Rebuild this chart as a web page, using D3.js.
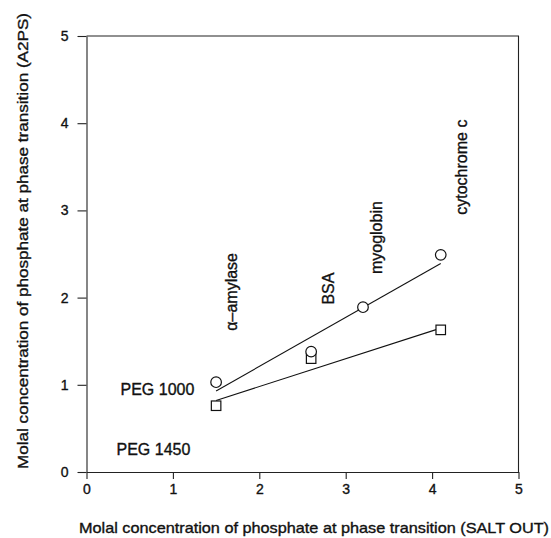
<!DOCTYPE html>
<html>
<head>
<meta charset="utf-8">
<script src="https://cdn.jsdelivr.net/npm/d3@7"></script>
<style>
  html, body { margin: 0; padding: 0; background: #fff; }
  svg text { font-family: "Liberation Sans", Arial, sans-serif; fill: #111; stroke: #111; stroke-width: 0.35px; }
</style>
</head>
<body>
<svg></svg>
<script>
// proteins and salt-out concentrations (x)
var proteins = ['\u03B1\u2013amylase', 'BSA', 'myoglobin', 'cytochrome c'];
var saltOut = [1.5, 2.6, 3.2, 4.1];
// A2PS concentrations (y) for each PEG
var peg1000 = [1.03, 1.38, 1.89, 2.49];
var peg1450 = [0.76, 1.30, null, 1.63];
// fitted lines, end points
var fitX = [1.5, 4.1];
var fit1000 = [0.93, 2.39];
var fit1450 = [0.82, 1.65];
var ticks = [0, 1, 2, 3, 4, 5];

var W = 551, H = 538;
var svg = d3.select('svg').attr('width', W).attr('height', H);

var x = d3.scaleLinear().domain([0, 5]).range([86.5, 518.5]);
var y = d3.scaleLinear().domain([0, 5]).range([472, 36]);

// where the protein names sit (data units, start of rotated text)
var labelPos = [
  {x: 1.74, y: 1.62},
  {x: 2.86, y: 1.92},
  {x: 3.42, y: 2.27},
  {x: 4.40, y: 2.95}
];

// axes
var gx = svg.append('g').attr('transform', 'translate(0,' + y(0) + ')')
  .call(d3.axisBottom(x).tickValues(ticks).tickFormat(d3.format('d'))
    .tickSize(7).tickSizeOuter(0).tickPadding(12));
var gy = svg.append('g').attr('transform', 'translate(' + x(0) + ',0)')
  .call(d3.axisLeft(y).tickValues(ticks).tickFormat(d3.format('d'))
    .tickSize(9).tickSizeOuter(0).tickPadding(9));
[gx, gy].forEach(function(g) {
  g.selectAll('path, line').attr('stroke', '#222').attr('stroke-width', 1.1);
  g.selectAll('text').style('font-size', '14px').attr('fill', '#111');
});
gx.selectAll('text').attr('dy', '0.2em');

// top and right border
svg.append('path')
  .attr('d', 'M' + x(0) + ',' + y(5) + 'H' + x(5) + 'V' + y(0))
  .attr('fill', 'none').attr('stroke', '#222').attr('stroke-width', 1.1);

// axis titles
svg.append('text')
  .attr('x', 314).attr('y', 533)
  .attr('text-anchor', 'middle')
  .attr('textLength', 470).attr('lengthAdjust', 'spacingAndGlyphs')
  .style('font-size', '15px')
  .text('Molal concentration of phosphate at phase transition (SALT OUT)');
svg.append('text')
  .attr('transform', 'translate(27.5,241) rotate(-90)')
  .attr('text-anchor', 'middle')
  .attr('textLength', 456).attr('lengthAdjust', 'spacingAndGlyphs')
  .style('font-size', '15px')
  .text('Molal concentration of phosphate at phase transition (A2PS)');

// fit lines
var line = d3.line().x(function(d) { return x(d[0]); }).y(function(d) { return y(d[1]); });
[fit1000, fit1450].forEach(function(f) {
  svg.append('path')
    .datum(fitX.map(function(v, i) { return [v, f[i]]; }))
    .attr('d', line)
    .attr('fill', 'none').attr('stroke', '#111').attr('stroke-width', 1.1);
});

// PEG 1450 squares
var sq = 9.5;
svg.selectAll('rect.p1450')
  .data(saltOut.map(function(v, i) { return {x: v, y: peg1450[i]}; }).filter(function(d) { return d.y != null; }))
  .enter().append('rect').attr('class', 'p1450')
  .attr('x', function(d) { return x(d.x) - sq / 2; })
  .attr('y', function(d) { return y(d.y) - sq / 2; })
  .attr('width', sq).attr('height', sq)
  .attr('fill', '#fff').attr('stroke', '#111').attr('stroke-width', 1.2);

// PEG 1000 circles
svg.selectAll('circle.p1000')
  .data(saltOut.map(function(v, i) { return {x: v, y: peg1000[i]}; }))
  .enter().append('circle').attr('class', 'p1000')
  .attr('cx', function(d) { return x(d.x); })
  .attr('cy', function(d) { return y(d.y); })
  .attr('r', 5.3)
  .attr('fill', '#fff').attr('stroke', '#111').attr('stroke-width', 1.2);

// protein names
svg.selectAll('text.prot')
  .data(proteins)
  .enter().append('text').attr('class', 'prot')
  .attr('transform', function(d, i) {
    return 'translate(' + x(labelPos[i].x) + ',' + y(labelPos[i].y) + ') rotate(-90)';
  })
  .style('font-size', '16px')
  .text(function(d) { return d; });

// series names
svg.append('text').attr('x', 120.5).attr('y', 395).style('font-size', '16px').text('PEG 1000');
svg.append('text').attr('x', 116.5).attr('y', 455).style('font-size', '16px').text('PEG 1450');
</script>
</body>
</html>
